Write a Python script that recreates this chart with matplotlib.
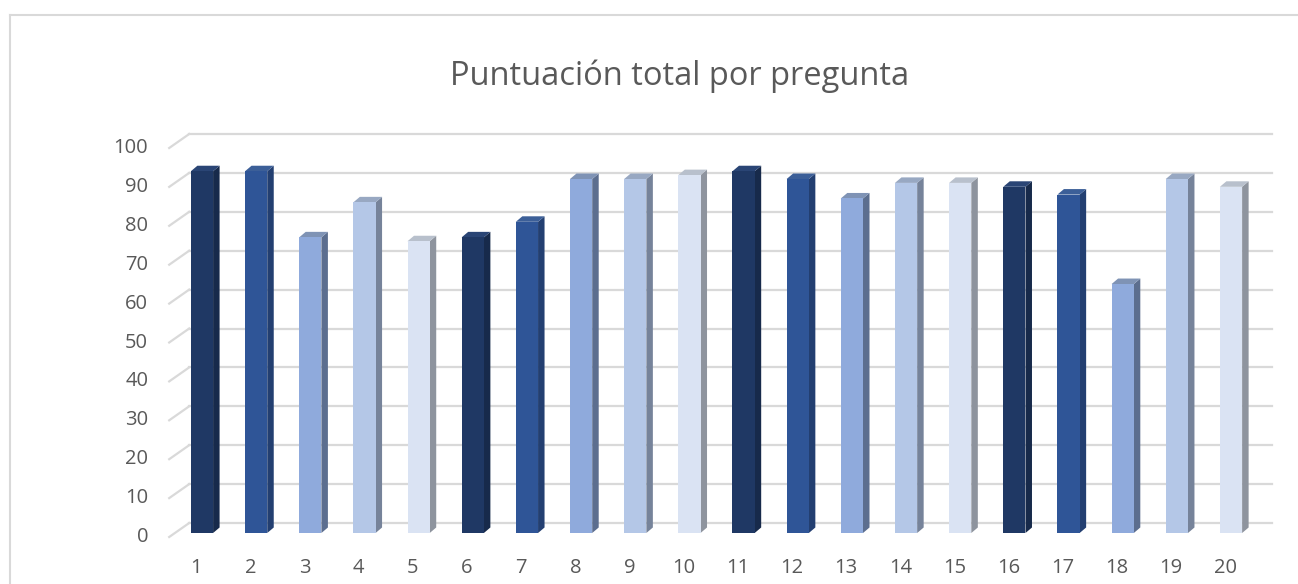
import numpy as np
import matplotlib
matplotlib.use("Agg")
import matplotlib.pyplot as plt
from matplotlib.patches import Polygon
from matplotlib.transforms import offset_copy
from matplotlib.lines import Line2D

# data
preguntas = [str(i) for i in range(1, 21)]
puntuacion = [93, 93, 76, 85, 75, 76, 80, 91, 91, 92,
              93, 91, 86, 90, 90, 89, 87, 64, 91, 89]
face_colors = ["#1F3864", "#2F5597", "#8FAADC", "#B4C7E7", "#DAE3F3"]
side_colors = ["#172A4B", "#233F71", "#5C6E8F", "#76839A", "#8E949E"]
top_colors = ["#2A4575", "#3C5F98", "#7F93B5", "#98A8C2", "#B8C0CC"]
y_ticks = list(range(0, 101, 10))

TEXT = "#595959"
GRID = "#D9D9D9"

fig = plt.figure(figsize=(12.98, 5.84), dpi=100)
W, H = 1298, 584

# axes = plane of the bar front faces (pixel box)
left_px, right_px = 174.9, 1258.1
bot_px, top_px = 533, 144
ax = fig.add_axes([left_px / W, (H - bot_px) / H,
                   (right_px - left_px) / W, (bot_px - top_px) / H])
ax.set_xlim(0.5, 20.5)
ax.set_ylim(0, 100)
ax.axis("off")

# back wall / front plane offsets (pixels)
back = offset_copy(ax.transData, fig=fig, x=14.3, y=10, units="dots")
front = offset_copy(ax.transData, fig=fig, x=-5.7, y=-4, units="dots")

x0, x1 = ax.get_xlim()
for v in y_ticks:
    ax.add_line(Line2D([x0, x1], [v, v], transform=back, color=GRID,
                       lw=1.6, clip_on=False, zorder=0))
    # slanted segment from front plane to back wall
    p_front = front.transform((x0, v))
    p_back = back.transform((x0, v))
    fig.add_artist(Line2D([p_front[0] / W, p_back[0] / W],
                          [p_front[1] / H, p_back[1] / H],
                          transform=fig.transFigure, color=GRID, lw=1.6))
    ax.text(x0, v, str(v), transform=offset_copy(front, fig=fig, x=-21, y=0, units="dots"),
            ha="right", va="center", fontsize=14.5, color=TEXT,
            family="Open Sans")

# bars
width = 0.41
dx_px, dy_px = 6.5, 5.5
ppu_x = (right_px - left_px) / (x1 - x0)
ppu_y = (bot_px - top_px) / 100.0
ddx = dx_px / ppu_x
ddy = dy_px / ppu_y
xs = np.arange(1, len(puntuacion) + 1)
for i, (x, v) in enumerate(zip(xs, puntuacion)):
    c = i % 5
    l, r = x - width / 2, x + width / 2
    ax.add_patch(Polygon([(r, 0), (r + ddx, ddy), (r + ddx, v + ddy), (r, v)],
                         closed=True, facecolor=side_colors[c], edgecolor="none",
                         zorder=2))
    ax.add_patch(Polygon([(l, v), (l + ddx, v + ddy), (r + ddx, v + ddy), (r, v)],
                         closed=True, facecolor=top_colors[c], edgecolor="none",
                         zorder=2))
ax.bar(xs, puntuacion, width=width, color=[face_colors[i % 5] for i in range(len(xs))],
       zorder=3)

for x, lab in zip(xs, preguntas):
    ax.text(x, 0, lab, transform=offset_copy(front, fig=fig, x=0, y=-31, units="dots"),
            ha="center", va="center", fontsize=14.5, color=TEXT, family="Open Sans")

fig.text(680 / W, 1 - 76 / H, "Puntuación total por pregunta", ha="center", va="center",
         fontsize=23.5, color=TEXT, family="Open Sans")

# chart area border (top and left visible)
fig.add_artist(Line2D([9.5 / W, 1.0], [1 - 14.5 / H, 1 - 14.5 / H],
                      transform=fig.transFigure, color=GRID, lw=1.5))
fig.add_artist(Line2D([9.5 / W, 9.5 / W], [0, 1 - 14.5 / H],
                      transform=fig.transFigure, color=GRID, lw=1.5))

fig.savefig("out.png", dpi=100)
